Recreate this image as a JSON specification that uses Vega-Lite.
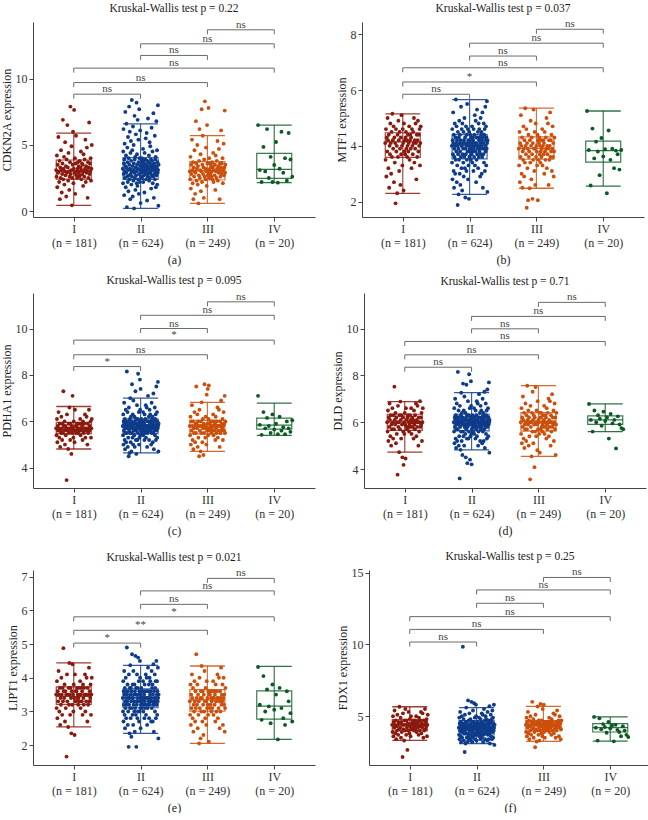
{
"$schema":"https://vega.github.io/schema/vega-lite/v6.json",
"padding":{"left":0,"top":2,"right":0,"bottom":0},
"background":"white",
"config":{"font":"Liberation Serif","view":{"stroke":null},
"axis":{"grid":false,"domainColor":"#444","tickColor":"#444","labelColor":"#333","labelFontSize":12,"titleFontSize":12,"titleFontWeight":"normal","titleColor":"#222","tickSize":4,"labelFont":"Liberation Serif","titleFont":"Liberation Serif"},
"title":{"fontSize":11.5,"fontWeight":"normal","font":"Liberation Serif","color":"#222","offset":4}},
"datasets":{
"box":[
{"p":"a","g":1,"lo":0.43,"q1":2.42,"md":3.03,"q3":3.86,"hi":5.9},
{"p":"a","g":2,"lo":0.2,"q1":2.4,"md":3.18,"q3":4.04,"hi":6.6},
{"p":"a","g":3,"lo":0.58,"q1":2.35,"md":3.05,"q3":3.74,"hi":5.7},
{"p":"a","g":4,"lo":2.15,"q1":2.47,"md":3.15,"q3":4.37,"hi":6.5},
{"p":"b","g":1,"lo":2.3,"q1":3.59,"md":4.14,"q3":4.47,"hi":5.15},
{"p":"b","g":2,"lo":2.26,"q1":3.53,"md":4.03,"q3":4.4,"hi":5.66},
{"p":"b","g":3,"lo":2.48,"q1":3.52,"md":3.91,"q3":4.32,"hi":5.35},
{"p":"b","g":4,"lo":2.56,"q1":3.42,"md":3.83,"q3":4.17,"hi":5.25},
{"p":"c","g":1,"lo":4.81,"q1":5.47,"md":5.67,"q3":5.96,"hi":6.64},
{"p":"c","g":2,"lo":4.64,"q1":5.47,"md":5.79,"q3":6.11,"hi":7.0},
{"p":"c","g":3,"lo":4.71,"q1":5.46,"md":5.79,"q3":6.04,"hi":6.82},
{"p":"c","g":4,"lo":5.4,"q1":5.67,"md":5.84,"q3":6.14,"hi":6.79},
{"p":"d","g":1,"lo":4.72,"q1":5.65,"md":6.0,"q3":6.34,"hi":6.88},
{"p":"d","g":2,"lo":4.82,"q1":5.63,"md":6.0,"q3":6.34,"hi":7.26},
{"p":"d","g":3,"lo":4.54,"q1":5.62,"md":6.03,"q3":6.41,"hi":7.56},
{"p":"d","g":4,"lo":5.6,"q1":5.91,"md":6.1,"q3":6.27,"hi":6.78},
{"p":"e","g":1,"lo":2.54,"q1":3.21,"md":3.45,"q3":3.73,"hi":4.44},
{"p":"e","g":2,"lo":2.35,"q1":3.11,"md":3.41,"q3":3.67,"hi":4.37},
{"p":"e","g":3,"lo":2.05,"q1":3.01,"md":3.34,"q3":3.65,"hi":4.35},
{"p":"e","g":4,"lo":2.17,"q1":2.77,"md":3.16,"q3":3.61,"hi":4.34},
{"p":"f","g":1,"lo":3.31,"q1":3.97,"md":4.39,"q3":4.77,"hi":5.66},
{"p":"f","g":2,"lo":3.1,"q1":3.69,"md":4.23,"q3":4.7,"hi":5.6},
{"p":"f","g":3,"lo":3.24,"q1":3.97,"md":4.39,"q3":4.7,"hi":5.68},
{"p":"f","g":4,"lo":3.26,"q1":3.9,"md":4.2,"q3":4.48,"hi":4.95}
],
"brk":[
{"p":"a","x1":1,"x2":2,"y":8.84,"lab":"ns"},{"p":"a","x1":1,"x2":3,"y":9.72,"lab":"ns"},{"p":"a","x1":1,"x2":4,"y":10.81,"lab":"ns"},{"p":"a","x1":2,"x2":3,"y":11.77,"lab":"ns"},{"p":"a","x1":2,"x2":4,"y":12.65,"lab":"ns"},{"p":"a","x1":3,"x2":4,"y":13.71,"lab":"ns"},
{"p":"b","x1":1,"x2":2,"y":5.85,"lab":"ns"},{"p":"b","x1":1,"x2":3,"y":6.29,"lab":"*"},{"p":"b","x1":1,"x2":4,"y":6.8,"lab":"ns"},{"p":"b","x1":2,"x2":3,"y":7.22,"lab":"ns"},{"p":"b","x1":2,"x2":4,"y":7.68,"lab":"ns"},{"p":"b","x1":3,"x2":4,"y":8.18,"lab":"ns"},
{"p":"c","x1":1,"x2":2,"y":8.36,"lab":"*"},{"p":"c","x1":1,"x2":3,"y":8.87,"lab":"ns"},{"p":"c","x1":1,"x2":4,"y":9.5,"lab":"*"},{"p":"c","x1":2,"x2":3,"y":10.0,"lab":"ns"},{"p":"c","x1":2,"x2":4,"y":10.57,"lab":"ns"},{"p":"c","x1":3,"x2":4,"y":11.15,"lab":"ns"},
{"p":"d","x1":1,"x2":2,"y":8.35,"lab":"ns"},{"p":"d","x1":1,"x2":3,"y":8.88,"lab":"ns"},{"p":"d","x1":1,"x2":4,"y":9.45,"lab":"ns"},{"p":"d","x1":2,"x2":3,"y":9.99,"lab":"ns"},{"p":"d","x1":2,"x2":4,"y":10.52,"lab":"ns"},{"p":"d","x1":3,"x2":4,"y":11.12,"lab":"ns"},
{"p":"e","x1":1,"x2":2,"y":5.03,"lab":"*"},{"p":"e","x1":1,"x2":3,"y":5.41,"lab":"**"},{"p":"e","x1":1,"x2":4,"y":5.81,"lab":"*"},{"p":"e","x1":2,"x2":3,"y":6.18,"lab":"ns"},{"p":"e","x1":2,"x2":4,"y":6.58,"lab":"ns"},{"p":"e","x1":3,"x2":4,"y":6.95,"lab":"ns"},
{"p":"f","x1":1,"x2":2,"y":10.17,"lab":"ns"},{"p":"f","x1":1,"x2":3,"y":11.05,"lab":"ns"},{"p":"f","x1":1,"x2":4,"y":11.94,"lab":"ns"},{"p":"f","x1":2,"x2":3,"y":12.87,"lab":"ns"},{"p":"f","x1":2,"x2":4,"y":13.8,"lab":"ns"},{"p":"f","x1":3,"x2":4,"y":14.67,"lab":"ns"}
],
"pts":[
{"p":"a","g":1,"v":[3.1,2.6,4.2,1.8,3.5,2.9,5.6,3.0,2.2,3.8,0.9,3.3,2.5,4.6,3.1,1.4,2.8,3.6,6.9,2.4,3.2,4.1,2.0,3.0,5.2,2.7,3.4,1.1,3.9,2.9,6.5,3.3,2.3,4.4,3.0,1.6,2.6,3.7,7.9,2.8,3.1,4.9,0.43,2.5,3.5,6.0,2.1,3.2,7.65,2.9,4.0,1.3,3.6,5.7,2.7,3.0]},
{"p":"a","g":1,"v":[2.5,3.2,3.7,2.9,3.4,2.6,3.0,3.8,2.7,3.3,4.5,2.4,3.1,3.6,2.8,3.5,1.9,4.3,3.0,2.6,3.9,3.2,5.4,2.2,3.4,2.9,4.8,3.1,1.0,3.7,2.5,3.3,6.7,2.8,3.6,3.0,4.0,2.3,3.2,5.0]},
{"p":"a","g":2,"v":[3.2,2.1,4.5,6.2,2.8,3.6,1.2,3.9,5.1,2.5,3.0,7.5,3.4,1.8,4.2,2.9,6.6,3.3,0.3,2.6,4.8,3.7,2.2,5.6,3.1,1.5,4.0,2.7,7.9,3.5,2.4,6.0,3.2,0.9,4.4,2.8,5.3,3.8,2.0,3.0,8.4,2.6,4.6,3.4,1.1,6.4,3.1,2.3,5.0,3.6,0.2,2.9,7.2,3.9,2.5,4.1,1.6,3.3,5.8,2.7,3.0,8.2,2.1,4.3,3.5,1.9,6.9,3.2,2.4,5.4,3.7,1.3,2.8,7.7,4.0,3.1,2.2,6.1,3.4,0.6]},
{"p":"a","g":2,"v":[2.6,3.5,3.9,2.9,3.2,4.0,2.5,3.7,3.0,3.4,4.7,2.2,3.1,3.8,2.7,3.6,1.4,4.4,3.3,2.8,3.9,3.0,5.5,2.4,3.5,2.9,5.9,3.2,0.8,3.8,2.6,3.4,7.0,2.8,3.7,3.1,4.2,2.3,3.3,5.2,2.5,3.6,4.9,2.9,3.0,3.9,1.7,3.4,6.3,2.7,3.8,3.2,4.5,2.1,3.5,2.6,7.4,3.1,1.0,3.6,2.8,3.3,5.7,2.4,3.9,3.0,4.1,1.8,3.4,6.8,2.7,3.2,4.6,2.0,3.7,2.9,8.0,3.1,0.4,3.5]},
{"p":"a","g":3,"v":[3.0,2.4,4.1,1.7,3.5,2.8,5.4,3.1,2.1,3.7,0.9,3.3,2.6,4.6,3.0,1.3,2.9,6.8,3.6,2.3,3.2,5.0,2.0,3.4,0.58,2.7,3.8,6.2,2.5,3.1,4.3,1.5,3.0,7.7,2.2,3.5,5.7,2.8,3.3,1.0,3.9,2.6,8.3,3.2,2.4,4.8,3.0,1.9,6.5,3.6,2.7,3.1,7.8,2.9,4.0]},
{"p":"a","g":3,"v":[2.5,3.2,3.6,2.8,3.4,2.6,3.0,3.7,2.4,3.3,4.4,2.2,3.1,3.5,2.7,3.5,1.6,4.2,3.0,2.5,3.8,3.2,5.3,2.3,3.4,2.9,4.7,3.1,0.9,3.6,2.6,3.3,6.1,2.8,3.6,3.0,4.0,2.1,3.2,5.1,2.7,3.3,7.6,2.9,3.5]},
{"p":"a","g":4,"v":[6.5,3.1,2.2,4.85,3.0,6.2,2.5,4.1,2.2,3.48,5.22,2.15,3.2,6.0,2.9,4.0,2.3,5.9,3.9,2.6]},
{"p":"b","g":1,"v":[4.1,3.5,4.6,2.9,4.3,3.8,5.0,4.2,3.2,4.4,2.5,4.0,3.7,4.8,4.1,3.0,4.5,3.6,5.15,4.2,3.9,4.7,2.7,4.3,3.4,4.1,1.94,4.6,3.8,4.0,2.3,4.4,3.6,4.9,4.2,3.1,4.5,3.9,2.6,4.3,3.7,5.1,4.0,3.3,4.6,4.1,2.4,4.8,3.8,4.2]},
{"p":"b","g":1,"v":[3.7,4.3,4.5,3.9,4.2,3.6,4.0,4.4,3.8,4.1,4.7,3.5,4.2,4.4,3.9,4.3,3.2,4.6,4.0,3.7,4.5,4.1,5.0,3.4,4.2,3.9,4.8,4.1,2.8,4.4,3.6,4.2,4.9,3.8,4.4,4.0,4.6,3.3,4.1,4.7]},
{"p":"b","g":2,"v":[4.0,3.4,4.6,2.8,4.2,3.7,5.2,4.1,3.1,4.4,2.5,3.9,3.6,4.8,4.0,3.0,4.3,3.5,5.66,4.1,3.8,4.7,2.7,4.2,3.3,4.0,1.88,4.5,3.7,3.9,2.26,4.3,3.5,4.9,4.1,3.0,4.4,3.8,2.6,4.2,3.6,5.4,4.0,3.2,4.6,4.0,2.4,4.8,3.7,4.1,3.9,3.4,4.5,2.9,4.2,3.6,5.0,4.1,3.2,4.3,2.15,3.9,3.7,4.7,4.0,3.1,4.4,3.5,5.5,4.1,3.8,4.6,2.8,4.2,3.3,4.0,2.1,4.5,3.6,3.9]},
{"p":"b","g":2,"v":[3.6,4.2,4.4,3.8,4.1,3.5,3.9,4.3,3.7,4.0,4.7,3.4,4.1,4.3,3.8,4.2,3.1,4.6,3.9,3.6,4.4,4.0,5.1,3.3,4.1,3.8,4.9,4.0,2.7,4.3,3.5,4.1,5.3,3.7,4.3,3.9,4.5,3.2,4.0,4.8,3.6,4.2,4.6,3.8,3.9,4.3,2.9,4.1,5.0,3.7,4.4,4.0,4.5,3.0,4.2,3.6,5.2,3.9,2.5,4.3,3.7,4.1,4.8,3.4,4.4,3.9,4.6,3.1,4.0,5.4,3.8,4.2,4.7,3.3,4.3,3.9,5.6,4.1,2.35,4.2]},
{"p":"b","g":3,"v":[3.9,3.3,4.5,2.7,4.1,3.6,5.1,4.0,3.0,4.3,2.5,3.8,3.5,4.7,3.9,2.9,4.2,3.4,5.35,4.0,3.7,4.6,1.78,4.1,3.2,3.9,2.05,4.4,3.6,3.8,2.48,4.2,3.4,4.9,4.0,2.8,4.3,3.7,2.1,4.1,3.5,5.3,3.9,3.1,4.5,3.9,2.6,4.8,3.6,4.0,3.8,3.3,4.4,2.05,4.2]},
{"p":"b","g":3,"v":[3.5,4.1,4.3,3.7,4.0,3.4,3.8,4.2,3.6,3.9,4.6,3.3,4.0,4.2,3.7,4.1,3.0,4.5,3.8,3.5,4.3,3.9,5.0,3.2,4.0,3.7,4.8,3.9,2.6,4.2,3.5,4.0,5.2,3.6,4.2,3.8,4.4,3.1,3.9,4.7,3.6,4.1,2.9,3.8,4.3]},
{"p":"b","g":4,"v":[5.25,3.85,2.58,4.62,3.55,4.15,3.8,2.95,4.28,3.62,3.88,2.3,4.55,3.5,3.9,3.2,3.83,3.7,3.15,3.85]},
{"p":"c","g":1,"v":[5.7,5.4,6.1,5.1,5.8,5.6,6.4,5.7,5.3,5.9,4.9,5.6,5.5,6.2,5.7,5.2,5.9,5.5,7.3,5.8,5.6,6.0,5.0,5.8,5.4,5.7,3.47,6.3,5.6,5.7,4.81,5.9,5.5,6.6,5.7,5.2,5.9,5.6,4.6,5.8,5.5,7.1,5.7,5.3,6.0,5.6,5.1,6.5,5.6,5.8]},
{"p":"c","g":1,"v":[5.5,5.8,5.9,5.6,5.7,5.5,5.6,5.9,5.6,5.7,6.1,5.4,5.7,5.9,5.6,5.8,5.2,6.0,5.6,5.5,5.9,5.7,6.3,5.3,5.7,5.6,6.2,5.7,5.0,5.9,5.5,5.7,6.5,5.6,5.8,5.7,6.0,5.3,5.7,6.1]},
{"p":"c","g":2,"v":[5.8,5.4,6.3,5.0,6.0,5.6,6.8,5.9,5.2,6.1,4.8,5.7,5.5,6.5,5.8,5.1,6.0,5.5,8.15,5.9,5.7,6.4,4.9,6.0,5.3,5.8,4.5,6.6,5.6,5.8,4.64,6.1,5.5,7.0,5.9,5.1,6.2,5.7,4.7,6.0,5.5,7.6,5.8,5.3,6.3,5.8,5.0,6.9,5.6,5.9,5.7,5.4,6.2,4.9,6.0,5.6,7.3,5.9,5.2,6.1,4.6,5.7,5.6,6.7,5.8,5.2,6.1,5.5,8.05,5.9,5.7,6.4,5.0,6.0,5.3,5.8,7.8,6.5,5.4,7.4]},
{"p":"c","g":2,"v":[5.6,5.9,6.1,5.7,5.8,5.5,5.7,6.0,5.6,5.8,6.4,5.4,5.8,6.0,5.6,5.9,5.2,6.3,5.7,5.5,6.1,5.8,6.7,5.3,5.8,5.6,6.6,5.8,4.9,6.0,5.5,5.8,7.1,5.6,6.0,5.7,6.2,5.2,5.8,6.5,5.6,5.9,6.3,5.6,5.7,6.0,5.0,5.8,6.8,5.5,6.1,5.7,6.2,5.1,5.9,5.5,7.2,5.7,4.8,6.0,5.6,5.8,6.6,5.4,6.1,5.7,6.3,5.2,5.8,7.5,5.6,5.9,6.4,5.3,6.0,5.7,7.7,5.8,4.7,5.9]},
{"p":"c","g":3,"v":[5.8,5.4,6.2,5.0,6.0,5.6,6.7,5.8,5.2,6.0,4.8,5.7,5.5,6.4,5.8,5.1,5.9,5.5,7.5,5.9,5.7,6.3,4.9,6.0,5.3,5.8,4.5,6.5,5.6,5.8,4.71,6.0,5.5,6.82,5.8,5.1,6.1,5.7,4.55,5.9,5.5,7.6,5.8,5.3,6.2,5.7,5.0,7.15,5.6,5.9,7.4,5.4,6.1,7.55,5.7]},
{"p":"c","g":3,"v":[5.6,5.9,6.0,5.7,5.8,5.5,5.7,6.0,5.6,5.8,6.3,5.4,5.8,6.0,5.6,5.9,5.2,6.2,5.7,5.5,6.0,5.8,6.6,5.3,5.8,5.6,6.5,5.8,4.9,6.0,5.5,5.8,6.9,5.6,5.9,5.7,6.1,5.2,5.8,6.4,5.6,5.9,7.1,5.5,6.0]},
{"p":"c","g":4,"v":[7.1,5.85,5.42,6.4,5.7,6.15,5.8,5.5,6.3,5.65,5.9,5.45,6.2,5.6,5.75,5.45,6.0,5.7,5.55,6.05]},
{"p":"d","g":1,"v":[6.0,5.6,6.5,5.2,6.2,5.8,6.8,6.1,5.4,6.3,5.0,5.9,5.7,6.6,6.0,5.3,6.3,5.7,7.52,6.1,5.9,6.4,5.1,6.2,5.5,6.0,3.76,6.7,5.8,6.0,4.72,6.3,5.7,6.88,6.1,5.3,6.3,5.9,4.5,6.2,5.6,4.18,6.0,5.5,6.4,5.9,4.45,6.6,5.8,6.1]},
{"p":"d","g":1,"v":[5.7,6.2,6.3,5.8,6.0,5.6,5.9,6.3,5.8,6.1,6.6,5.5,6.0,6.2,5.8,6.1,5.3,6.5,5.9,5.7,6.3,6.0,6.8,5.4,6.1,5.8,6.7,6.0,5.0,6.2,5.6,6.0,6.9,5.8,6.2,5.9,6.4,5.2,6.0,6.6]},
{"p":"d","g":2,"v":[6.0,5.6,6.6,5.1,6.2,5.8,7.0,6.1,5.3,6.3,4.9,5.9,5.7,6.8,6.0,5.2,6.2,5.7,8.15,6.1,5.9,6.5,5.0,6.2,5.4,6.0,3.6,6.7,5.8,6.0,4.82,6.3,5.6,7.26,6.1,5.2,6.4,5.9,4.6,6.2,5.6,7.65,6.0,5.4,6.5,5.9,5.0,7.1,5.8,6.1,5.9,5.5,6.4,4.5,6.2,5.7,7.6,6.1,5.3,6.3,4.25,5.9,5.8,6.9,6.0,5.3,6.3,5.6,8.05,6.1,5.9,6.6,4.4,6.2,5.4,6.0,7.75,6.7,5.5,4.2]},
{"p":"d","g":2,"v":[5.7,6.1,6.3,5.8,6.0,5.6,5.9,6.2,5.8,6.0,6.6,5.5,6.0,6.2,5.8,6.1,5.3,6.5,5.9,5.7,6.3,6.0,6.9,5.4,6.1,5.8,6.8,6.0,5.0,6.2,5.6,6.0,7.2,5.8,6.2,5.9,6.4,5.2,6.0,6.7,5.7,6.1,6.5,5.8,5.9,6.2,5.1,6.0,7.0,5.6,6.3,5.9,6.4,5.2,6.1,5.7,7.3,5.9,4.9,6.2,5.8,6.0,6.8,5.5,6.3,5.9,6.5,5.3,6.0,7.4,5.8,6.1,6.6,5.4,6.2,5.9,7.7,6.0,4.7,6.1]},
{"p":"d","g":3,"v":[6.0,5.5,6.6,5.1,6.2,5.8,7.1,6.1,5.3,6.4,4.9,5.9,5.7,6.8,6.0,5.2,6.3,5.7,7.56,6.1,5.9,6.5,5.0,6.2,5.4,6.0,3.56,6.7,5.8,6.0,4.54,6.4,5.6,7.3,6.1,5.1,6.3,5.9,4.08,6.2,5.6,7.5,6.0,5.4,6.5,5.9,4.8,6.9,5.7,6.1,6.0,5.5,6.4,4.7,6.2]},
{"p":"d","g":3,"v":[5.7,6.2,6.4,5.8,6.0,5.6,5.9,6.3,5.8,6.1,6.7,5.5,6.0,6.3,5.8,6.2,5.3,6.6,5.9,5.7,6.4,6.0,7.0,5.4,6.1,5.8,6.9,6.0,5.0,6.3,5.6,6.0,7.2,5.8,6.2,5.9,6.5,5.2,6.0,6.8,5.7,6.2,4.6,5.9,6.4]},
{"p":"d","g":4,"v":[6.78,6.1,5.6,6.5,6.0,6.3,6.15,5.85,6.45,6.05,6.2,5.3,6.35,5.95,6.1,4.88,6.25,5.9,5.75,5.7]},
{"p":"e","g":1,"v":[3.5,3.1,3.9,2.8,3.6,3.3,4.2,3.5,3.0,3.7,2.6,3.4,3.2,4.0,3.5,2.9,3.7,3.3,4.88,3.6,3.4,3.8,2.7,3.6,3.1,3.5,1.66,4.1,3.3,3.5,2.54,3.7,3.2,4.44,3.5,2.9,3.7,3.4,2.35,3.6,3.2,4.4,3.5,3.0,3.8,3.4,2.3,4.1,3.3,3.6]},
{"p":"e","g":1,"v":[3.3,3.6,3.7,3.4,3.5,3.2,3.4,3.7,3.3,3.5,3.9,3.1,3.5,3.7,3.3,3.6,2.9,3.8,3.4,3.2,3.7,3.5,4.1,3.0,3.5,3.3,4.0,3.5,2.7,3.7,3.2,3.5,4.3,3.3,3.6,3.4,3.8,2.9,3.5,4.0]},
{"p":"e","g":2,"v":[3.4,3.0,3.9,2.7,3.6,3.2,4.2,3.5,2.9,3.7,2.5,3.3,3.1,4.0,3.4,2.8,3.6,3.2,4.9,3.5,3.3,3.8,2.6,3.6,3.0,3.4,1.95,4.1,3.2,3.4,2.35,3.7,3.1,4.37,3.5,2.8,3.7,3.3,2.25,3.6,3.1,4.7,3.4,2.9,3.8,3.4,2.6,4.2,3.2,3.5,3.3,3.0,3.8,2.4,3.6,3.1,4.65,3.5,2.9,3.7,1.95,3.3,3.2,4.1,3.4,2.8,3.7,3.0,4.6,3.5,3.3,3.9,2.7,3.6,3.0,3.4,4.5,4.0,3.1,2.5]},
{"p":"e","g":2,"v":[3.2,3.5,3.7,3.3,3.4,3.1,3.3,3.6,3.2,3.4,3.9,3.0,3.4,3.6,3.2,3.5,2.8,3.8,3.3,3.1,3.6,3.4,4.1,2.9,3.4,3.2,4.0,3.4,2.6,3.6,3.1,3.4,4.3,3.2,3.6,3.3,3.8,2.8,3.4,4.0,3.2,3.5,3.9,3.3,3.3,3.6,2.7,3.4,4.2,3.1,3.7,3.3,3.8,2.7,3.5,3.2,4.4,3.3,2.4,3.6,3.2,3.4,4.1,3.0,3.7,3.3,3.9,2.8,3.4,4.5,3.2,3.5,3.9,2.9,3.6,3.3,4.3,3.4,2.2,3.5]},
{"p":"e","g":3,"v":[3.3,2.9,3.8,2.6,3.5,3.1,4.1,3.4,2.8,3.7,2.4,3.2,3.0,3.9,3.3,2.7,3.6,3.1,4.7,3.4,3.2,3.8,2.5,3.5,2.9,3.3,2.05,4.0,3.1,3.4,2.2,3.6,3.0,4.35,3.4,2.7,3.6,3.2,2.3,3.5,3.0,4.2,3.3,2.8,3.7,3.3,2.6,3.9,3.1,3.4,3.2,2.9,3.6,2.1,3.5]},
{"p":"e","g":3,"v":[3.1,3.5,3.6,3.2,3.4,3.0,3.3,3.6,3.1,3.4,3.9,2.9,3.4,3.6,3.2,3.5,2.7,3.8,3.3,3.0,3.6,3.4,4.1,2.8,3.4,3.1,4.0,3.3,2.5,3.6,3.0,3.4,4.3,3.2,3.5,3.3,3.8,2.6,3.4,4.0,3.2,3.5,2.4,3.1,3.7]},
{"p":"e","g":4,"v":[4.32,3.2,2.75,4.05,3.0,3.65,3.15,2.65,3.8,3.05,3.5,2.17,3.7,3.1,2.8,2.6,3.6,3.3,2.95,2.7]},
{"p":"f","g":1,"v":[4.4,3.9,5.0,3.6,4.6,4.2,5.4,4.4,3.8,4.7,3.4,4.3,4.0,5.1,4.4,3.7,4.6,4.1,5.66,4.5,4.2,4.9,3.5,4.6,3.9,4.4,2.16,5.2,4.1,4.4,3.31,4.7,4.0,5.5,4.4,3.7,4.7,4.2,2.65,4.5,4.0,5.3,4.4,3.8,4.8,4.3,3.6,5.0,4.1,4.5]},
{"p":"f","g":1,"v":[4.1,4.6,4.7,4.2,4.4,4.0,4.3,4.7,4.1,4.5,5.0,3.9,4.4,4.6,4.2,4.6,3.7,4.9,4.3,4.0,4.7,4.4,5.3,3.8,4.5,4.2,5.2,4.4,3.5,4.7,4.0,4.4,5.5,4.1,4.6,4.3,4.8,3.6,4.4,5.1]},
{"p":"f","g":2,"v":[4.2,3.7,4.9,3.4,4.5,4.0,5.3,4.3,3.6,4.6,3.2,4.1,3.9,5.0,4.2,3.5,4.5,3.9,9.84,4.4,4.1,4.8,3.3,4.5,3.8,4.2,2.51,5.1,4.0,4.3,3.1,4.6,3.8,5.6,4.3,3.5,4.6,4.1,3.2,4.4,3.8,6.1,4.2,3.6,4.7,4.2,3.4,5.2,4.0,4.4,4.1,3.7,4.8,3.3,4.5,3.9,6.0,4.3,3.5,4.6,3.2,4.1,4.0,5.4,4.2,3.6,4.6,3.8,5.9,4.4,4.1,4.9,3.4,4.5,3.7,4.2,5.8,5.0,3.9,3.3]},
{"p":"f","g":2,"v":[3.8,4.4,4.6,3.9,4.2,3.7,4.0,4.5,3.8,4.3,4.9,3.6,4.2,4.5,3.9,4.4,3.4,4.8,4.1,3.7,4.6,4.2,5.2,3.5,4.3,3.9,5.1,4.2,3.2,4.5,3.7,4.2,5.5,3.9,4.4,4.1,4.7,3.4,4.2,5.0,3.8,4.3,4.8,3.9,4.0,4.5,3.3,4.2,5.3,3.7,4.6,4.1,4.7,3.4,4.4,3.8,5.7,4.0,3.1,4.5,3.9,4.2,5.1,3.6,4.6,4.1,4.8,3.4,4.2,5.4,3.9,4.3,4.9,3.5,4.5,4.0,5.8,4.2,3.0,4.4]},
{"p":"f","g":3,"v":[4.4,3.9,4.9,3.6,4.6,4.2,5.3,4.4,3.8,4.7,3.4,4.3,4.0,5.0,4.4,3.7,4.6,4.1,6.0,4.5,4.2,4.8,3.5,4.6,3.9,4.4,2.84,5.1,4.1,4.4,3.24,4.6,4.0,5.68,4.4,3.7,4.7,4.2,3.3,4.5,4.0,5.85,4.4,3.8,4.7,4.3,3.6,5.5,4.1,4.5,5.8,3.9,4.6,3.5,4.3]},
{"p":"f","g":3,"v":[4.1,4.5,4.6,4.2,4.4,4.0,4.3,4.6,4.1,4.5,4.9,3.9,4.4,4.6,4.2,4.5,3.7,4.8,4.3,4.0,4.6,4.4,5.2,3.8,4.4,4.1,5.1,4.3,3.5,4.6,4.0,4.4,5.4,4.2,4.5,4.3,4.7,3.6,4.4,5.0,4.2,4.5,3.4,4.1,4.7]},
{"p":"f","g":4,"v":[4.95,4.2,3.3,4.85,4.1,4.45,4.25,3.85,4.6,4.15,4.35,3.25,4.4,4.05,3.9,3.6,4.3,4.0,3.7,3.55]}
]
},
"spacing":10,
"vconcat":[
{"spacing":20,"hconcat":[
{"width":282,"height":195,"title":"Kruskal-Wallis test p = 0.22","resolve":{"scale":{"x":"independent"},"axis":{"x":"independent"}},
"encoding":{"y":{"field":"val","type":"quantitative","scale":{"domain":[-0.45,14.3],"nice":false,"zero":false},"axis":{"values":[0,5,10],"title":"CDKN2A expression","titlePadding":2,"labelPadding":2}}},
"layer":[
{"layer":[
{"data":{"name":"box"},"transform":[{"filter":"datum.p=='a'"},{"fold":["lo"],"as":["kk","val"]}],"mark":{"type":"rule","strokeWidth":1.2,"opacity":0.8},"encoding":{"x":{"field":"g","type":"nominal","scale":{"type":"point","domain":[1,2,3,4],"padding":0.61},"axis":{"title":"(a)","labelAngle":0,"labelExpr":"datum.value == 1 ? ['I', '(n = 181)'] : datum.value == 2 ? ['II', '(n = 624)'] : datum.value == 3 ? ['III', '(n = 249)'] : ['IV', '(n = 20)']","labelOverlap":false,"labelLineHeight":14,"labelPadding":2,"titlePadding":6}},"y2":{"field":"hi"},"color":{"field":"g","type":"nominal","scale":{"domain":[1,2,3,4],"range":["#8B1A0E","#0E3C8A","#CC4F0C","#0B5A24"]},"legend":null}}},
{"data":{"name":"box"},"transform":[{"filter":"datum.p=='a'"},{"fold":["q1"],"as":["kk","val"]}],"mark":{"type":"bar","orient":"vertical","size":35,"filled":false,"strokeWidth":1.2,"opacity":0.8},"encoding":{"x":{"field":"g","type":"nominal"},"y2":{"field":"q3"},"color":{"field":"g","type":"nominal","legend":null}}},
{"data":{"name":"box"},"transform":[{"filter":"datum.p=='a'"},{"fold":["lo","hi","md"],"as":["kk","val"]}],"mark":{"type":"tick","orient":"horizontal","size":35,"thickness":1.3,"opacity":0.85},"encoding":{"x":{"field":"g","type":"nominal"},"color":{"field":"g","type":"nominal","legend":null}}},
{"data":{"name":"pts"},"transform":[{"filter":"datum.p=='a'"},{"flatten":["v"],"as":["val"]},{"window":[{"op":"row_number","as":"k"}],"groupby":["g"]},{"window":[{"op":"cume_dist","as":"j"}],"sort":[{"field":"k"}],"groupby":["g"]}],"mark":{"type":"circle","size":15,"opacity":1},"encoding":{"x":{"field":"g","type":"nominal"},"xOffset":{"field":"j","type":"quantitative","scale":{"domain":[0,1],"range":[-18,18]}},"color":{"field":"g","type":"nominal","legend":null}}}
]},
{"layer":[
{"data":{"name":"brk"},"transform":[{"filter":"datum.p=='a'"},{"fold":["y"],"as":["kk","val"]}],"mark":{"type":"rule","color":"#6a6a6a","strokeWidth":1},"encoding":{"x":{"field":"x1","type":"quantitative","scale":{"domain":[0.39,4.61],"nice":false,"zero":false},"axis":null},"x2":{"field":"x2"}}},
{"data":{"name":"brk"},"transform":[{"filter":"datum.p=='a'"},{"fold":["x1","x2"],"as":["kk","xv"]},{"fold":["y"],"as":["k2","val"]}],"mark":{"type":"point","shape":"M0,0L0,1","size":81,"color":"#6a6a6a","strokeWidth":1,"opacity":1},"encoding":{"x":{"field":"xv","type":"quantitative","axis":null}}},
{"data":{"name":"brk"},"transform":[{"filter":"datum.p=='a'"},{"fold":["x1","x2"],"as":["kk","xv"]},{"aggregate":[{"op":"mean","field":"xv","as":"xm"}],"groupby":["y","lab"]},{"fold":["y"],"as":["k2","val"]}],"mark":{"type":"text","baseline":"bottom","dy":0,"fontSize":11,"color":"#444"},"encoding":{"x":{"field":"xm","type":"quantitative","axis":null},"text":{"field":"lab"}}}
]}
]},
{"width":282,"height":195,"title":"Kruskal-Wallis test p = 0.037","resolve":{"scale":{"x":"independent"},"axis":{"x":"independent"}},
"encoding":{"y":{"field":"val","type":"quantitative","scale":{"domain":[1.45,8.44],"nice":false,"zero":false},"axis":{"values":[2,4,6,8],"title":"MTF1 expression","titlePadding":2,"labelPadding":2}}},
"layer":[
{"layer":[
{"data":{"name":"box"},"transform":[{"filter":"datum.p=='b'"},{"fold":["lo"],"as":["kk","val"]}],"mark":{"type":"rule","strokeWidth":1.2,"opacity":0.8},"encoding":{"x":{"field":"g","type":"nominal","scale":{"type":"point","domain":[1,2,3,4],"padding":0.61},"axis":{"title":"(b)","labelAngle":0,"labelExpr":"datum.value == 1 ? ['I', '(n = 181)'] : datum.value == 2 ? ['II', '(n = 624)'] : datum.value == 3 ? ['III', '(n = 249)'] : ['IV', '(n = 20)']","labelOverlap":false,"labelLineHeight":14,"labelPadding":2,"titlePadding":6}},"y2":{"field":"hi"},"color":{"field":"g","type":"nominal","scale":{"domain":[1,2,3,4],"range":["#8B1A0E","#0E3C8A","#CC4F0C","#0B5A24"]},"legend":null}}},
{"data":{"name":"box"},"transform":[{"filter":"datum.p=='b'"},{"fold":["q1"],"as":["kk","val"]}],"mark":{"type":"bar","orient":"vertical","size":35,"filled":false,"strokeWidth":1.2,"opacity":0.8},"encoding":{"x":{"field":"g","type":"nominal"},"y2":{"field":"q3"},"color":{"field":"g","type":"nominal","legend":null}}},
{"data":{"name":"box"},"transform":[{"filter":"datum.p=='b'"},{"fold":["lo","hi","md"],"as":["kk","val"]}],"mark":{"type":"tick","orient":"horizontal","size":35,"thickness":1.3,"opacity":0.85},"encoding":{"x":{"field":"g","type":"nominal"},"color":{"field":"g","type":"nominal","legend":null}}},
{"data":{"name":"pts"},"transform":[{"filter":"datum.p=='b'"},{"flatten":["v"],"as":["val"]},{"window":[{"op":"row_number","as":"k"}],"groupby":["g"]},{"window":[{"op":"cume_dist","as":"j"}],"sort":[{"field":"k"}],"groupby":["g"]}],"mark":{"type":"circle","size":15,"opacity":1},"encoding":{"x":{"field":"g","type":"nominal"},"xOffset":{"field":"j","type":"quantitative","scale":{"domain":[0,1],"range":[-18,18]}},"color":{"field":"g","type":"nominal","legend":null}}}
]},
{"layer":[
{"data":{"name":"brk"},"transform":[{"filter":"datum.p=='b'"},{"fold":["y"],"as":["kk","val"]}],"mark":{"type":"rule","color":"#6a6a6a","strokeWidth":1},"encoding":{"x":{"field":"x1","type":"quantitative","scale":{"domain":[0.39,4.61],"nice":false,"zero":false},"axis":null},"x2":{"field":"x2"}}},
{"data":{"name":"brk"},"transform":[{"filter":"datum.p=='b'"},{"fold":["x1","x2"],"as":["kk","xv"]},{"fold":["y"],"as":["k2","val"]}],"mark":{"type":"point","shape":"M0,0L0,1","size":81,"color":"#6a6a6a","strokeWidth":1,"opacity":1},"encoding":{"x":{"field":"xv","type":"quantitative","axis":null}}},
{"data":{"name":"brk"},"transform":[{"filter":"datum.p=='b'"},{"fold":["x1","x2"],"as":["kk","xv"]},{"aggregate":[{"op":"mean","field":"xv","as":"xm"}],"groupby":["y","lab"]},{"fold":["y"],"as":["k2","val"]}],"mark":{"type":"text","baseline":"bottom","dy":0,"fontSize":11,"color":"#444"},"encoding":{"x":{"field":"xm","type":"quantitative","axis":null},"text":{"field":"lab"}}}
]}
]}
]},
{"spacing":14,"vconcat":[
{"spacing":16,"hconcat":[
{"width":282,"height":195,"title":"Kruskal-Wallis test p = 0.095","resolve":{"scale":{"x":"independent"},"axis":{"x":"independent"}},
"encoding":{"y":{"field":"val","type":"quantitative","scale":{"domain":[3.13,11.53],"nice":false,"zero":false},"axis":{"values":[4,6,8,10],"title":"PDHA1 expression","titlePadding":2,"labelPadding":2}}},
"layer":[
{"layer":[
{"data":{"name":"box"},"transform":[{"filter":"datum.p=='c'"},{"fold":["lo"],"as":["kk","val"]}],"mark":{"type":"rule","strokeWidth":1.2,"opacity":0.8},"encoding":{"x":{"field":"g","type":"nominal","scale":{"type":"point","domain":[1,2,3,4],"padding":0.61},"axis":{"title":"(c)","labelAngle":0,"labelExpr":"datum.value == 1 ? ['I', '(n = 181)'] : datum.value == 2 ? ['II', '(n = 624)'] : datum.value == 3 ? ['III', '(n = 249)'] : ['IV', '(n = 20)']","labelOverlap":false,"labelLineHeight":14,"labelPadding":2,"titlePadding":6}},"y2":{"field":"hi"},"color":{"field":"g","type":"nominal","scale":{"domain":[1,2,3,4],"range":["#8B1A0E","#0E3C8A","#CC4F0C","#0B5A24"]},"legend":null}}},
{"data":{"name":"box"},"transform":[{"filter":"datum.p=='c'"},{"fold":["q1"],"as":["kk","val"]}],"mark":{"type":"bar","orient":"vertical","size":35,"filled":false,"strokeWidth":1.2,"opacity":0.8},"encoding":{"x":{"field":"g","type":"nominal"},"y2":{"field":"q3"},"color":{"field":"g","type":"nominal","legend":null}}},
{"data":{"name":"box"},"transform":[{"filter":"datum.p=='c'"},{"fold":["lo","hi","md"],"as":["kk","val"]}],"mark":{"type":"tick","orient":"horizontal","size":35,"thickness":1.3,"opacity":0.85},"encoding":{"x":{"field":"g","type":"nominal"},"color":{"field":"g","type":"nominal","legend":null}}},
{"data":{"name":"pts"},"transform":[{"filter":"datum.p=='c'"},{"flatten":["v"],"as":["val"]},{"window":[{"op":"row_number","as":"k"}],"groupby":["g"]},{"window":[{"op":"cume_dist","as":"j"}],"sort":[{"field":"k"}],"groupby":["g"]}],"mark":{"type":"circle","size":15,"opacity":1},"encoding":{"x":{"field":"g","type":"nominal"},"xOffset":{"field":"j","type":"quantitative","scale":{"domain":[0,1],"range":[-18,18]}},"color":{"field":"g","type":"nominal","legend":null}}}
]},
{"layer":[
{"data":{"name":"brk"},"transform":[{"filter":"datum.p=='c'"},{"fold":["y"],"as":["kk","val"]}],"mark":{"type":"rule","color":"#6a6a6a","strokeWidth":1},"encoding":{"x":{"field":"x1","type":"quantitative","scale":{"domain":[0.39,4.61],"nice":false,"zero":false},"axis":null},"x2":{"field":"x2"}}},
{"data":{"name":"brk"},"transform":[{"filter":"datum.p=='c'"},{"fold":["x1","x2"],"as":["kk","xv"]},{"fold":["y"],"as":["k2","val"]}],"mark":{"type":"point","shape":"M0,0L0,1","size":81,"color":"#6a6a6a","strokeWidth":1,"opacity":1},"encoding":{"x":{"field":"xv","type":"quantitative","axis":null}}},
{"data":{"name":"brk"},"transform":[{"filter":"datum.p=='c'"},{"fold":["x1","x2"],"as":["kk","xv"]},{"aggregate":[{"op":"mean","field":"xv","as":"xm"}],"groupby":["y","lab"]},{"fold":["y"],"as":["k2","val"]}],"mark":{"type":"text","baseline":"bottom","dy":0,"fontSize":11,"color":"#444"},"encoding":{"x":{"field":"xm","type":"quantitative","axis":null},"text":{"field":"lab"}}}
]}
]},
{"width":282,"height":195,"title":"Kruskal-Wallis test p = 0.71","resolve":{"scale":{"x":"independent"},"axis":{"x":"independent"}},
"encoding":{"y":{"field":"val","type":"quantitative","scale":{"domain":[3.19,11.52],"nice":false,"zero":false},"axis":{"values":[4,6,8,10],"title":"DLD expression","titlePadding":2,"labelPadding":2}}},
"layer":[
{"layer":[
{"data":{"name":"box"},"transform":[{"filter":"datum.p=='d'"},{"fold":["lo"],"as":["kk","val"]}],"mark":{"type":"rule","strokeWidth":1.2,"opacity":0.8},"encoding":{"x":{"field":"g","type":"nominal","scale":{"type":"point","domain":[1,2,3,4],"padding":0.61},"axis":{"title":"(d)","labelAngle":0,"labelExpr":"datum.value == 1 ? ['I', '(n = 181)'] : datum.value == 2 ? ['II', '(n = 624)'] : datum.value == 3 ? ['III', '(n = 249)'] : ['IV', '(n = 20)']","labelOverlap":false,"labelLineHeight":14,"labelPadding":2,"titlePadding":6}},"y2":{"field":"hi"},"color":{"field":"g","type":"nominal","scale":{"domain":[1,2,3,4],"range":["#8B1A0E","#0E3C8A","#CC4F0C","#0B5A24"]},"legend":null}}},
{"data":{"name":"box"},"transform":[{"filter":"datum.p=='d'"},{"fold":["q1"],"as":["kk","val"]}],"mark":{"type":"bar","orient":"vertical","size":35,"filled":false,"strokeWidth":1.2,"opacity":0.8},"encoding":{"x":{"field":"g","type":"nominal"},"y2":{"field":"q3"},"color":{"field":"g","type":"nominal","legend":null}}},
{"data":{"name":"box"},"transform":[{"filter":"datum.p=='d'"},{"fold":["lo","hi","md"],"as":["kk","val"]}],"mark":{"type":"tick","orient":"horizontal","size":35,"thickness":1.3,"opacity":0.85},"encoding":{"x":{"field":"g","type":"nominal"},"color":{"field":"g","type":"nominal","legend":null}}},
{"data":{"name":"pts"},"transform":[{"filter":"datum.p=='d'"},{"flatten":["v"],"as":["val"]},{"window":[{"op":"row_number","as":"k"}],"groupby":["g"]},{"window":[{"op":"cume_dist","as":"j"}],"sort":[{"field":"k"}],"groupby":["g"]}],"mark":{"type":"circle","size":15,"opacity":1},"encoding":{"x":{"field":"g","type":"nominal"},"xOffset":{"field":"j","type":"quantitative","scale":{"domain":[0,1],"range":[-18,18]}},"color":{"field":"g","type":"nominal","legend":null}}}
]},
{"layer":[
{"data":{"name":"brk"},"transform":[{"filter":"datum.p=='d'"},{"fold":["y"],"as":["kk","val"]}],"mark":{"type":"rule","color":"#6a6a6a","strokeWidth":1},"encoding":{"x":{"field":"x1","type":"quantitative","scale":{"domain":[0.39,4.61],"nice":false,"zero":false},"axis":null},"x2":{"field":"x2"}}},
{"data":{"name":"brk"},"transform":[{"filter":"datum.p=='d'"},{"fold":["x1","x2"],"as":["kk","xv"]},{"fold":["y"],"as":["k2","val"]}],"mark":{"type":"point","shape":"M0,0L0,1","size":81,"color":"#6a6a6a","strokeWidth":1,"opacity":1},"encoding":{"x":{"field":"xv","type":"quantitative","axis":null}}},
{"data":{"name":"brk"},"transform":[{"filter":"datum.p=='d'"},{"fold":["x1","x2"],"as":["kk","xv"]},{"aggregate":[{"op":"mean","field":"xv","as":"xm"}],"groupby":["y","lab"]},{"fold":["y"],"as":["k2","val"]}],"mark":{"type":"text","baseline":"bottom","dy":0,"fontSize":11,"color":"#444"},"encoding":{"x":{"field":"xm","type":"quantitative","axis":null},"text":{"field":"lab"}}}
]}
]}
]},
{"spacing":21,"hconcat":[
{"width":282,"height":195,"title":"Kruskal-Wallis test p = 0.021","resolve":{"scale":{"x":"independent"},"axis":{"x":"independent"}},
"encoding":{"y":{"field":"val","type":"quantitative","scale":{"domain":[1.41,7.2],"nice":false,"zero":false},"axis":{"values":[2,3,4,5,6,7],"title":"LIPT1 expression","titlePadding":2,"labelPadding":2}}},
"layer":[
{"layer":[
{"data":{"name":"box"},"transform":[{"filter":"datum.p=='e'"},{"fold":["lo"],"as":["kk","val"]}],"mark":{"type":"rule","strokeWidth":1.2,"opacity":0.8},"encoding":{"x":{"field":"g","type":"nominal","scale":{"type":"point","domain":[1,2,3,4],"padding":0.61},"axis":{"title":"(e)","labelAngle":0,"labelExpr":"datum.value == 1 ? ['I', '(n = 181)'] : datum.value == 2 ? ['II', '(n = 624)'] : datum.value == 3 ? ['III', '(n = 249)'] : ['IV', '(n = 20)']","labelOverlap":false,"labelLineHeight":14,"labelPadding":2,"titlePadding":6}},"y2":{"field":"hi"},"color":{"field":"g","type":"nominal","scale":{"domain":[1,2,3,4],"range":["#8B1A0E","#0E3C8A","#CC4F0C","#0B5A24"]},"legend":null}}},
{"data":{"name":"box"},"transform":[{"filter":"datum.p=='e'"},{"fold":["q1"],"as":["kk","val"]}],"mark":{"type":"bar","orient":"vertical","size":35,"filled":false,"strokeWidth":1.2,"opacity":0.8},"encoding":{"x":{"field":"g","type":"nominal"},"y2":{"field":"q3"},"color":{"field":"g","type":"nominal","legend":null}}},
{"data":{"name":"box"},"transform":[{"filter":"datum.p=='e'"},{"fold":["lo","hi","md"],"as":["kk","val"]}],"mark":{"type":"tick","orient":"horizontal","size":35,"thickness":1.3,"opacity":0.85},"encoding":{"x":{"field":"g","type":"nominal"},"color":{"field":"g","type":"nominal","legend":null}}},
{"data":{"name":"pts"},"transform":[{"filter":"datum.p=='e'"},{"flatten":["v"],"as":["val"]},{"window":[{"op":"row_number","as":"k"}],"groupby":["g"]},{"window":[{"op":"cume_dist","as":"j"}],"sort":[{"field":"k"}],"groupby":["g"]}],"mark":{"type":"circle","size":15,"opacity":1},"encoding":{"x":{"field":"g","type":"nominal"},"xOffset":{"field":"j","type":"quantitative","scale":{"domain":[0,1],"range":[-18,18]}},"color":{"field":"g","type":"nominal","legend":null}}}
]},
{"layer":[
{"data":{"name":"brk"},"transform":[{"filter":"datum.p=='e'"},{"fold":["y"],"as":["kk","val"]}],"mark":{"type":"rule","color":"#6a6a6a","strokeWidth":1},"encoding":{"x":{"field":"x1","type":"quantitative","scale":{"domain":[0.39,4.61],"nice":false,"zero":false},"axis":null},"x2":{"field":"x2"}}},
{"data":{"name":"brk"},"transform":[{"filter":"datum.p=='e'"},{"fold":["x1","x2"],"as":["kk","xv"]},{"fold":["y"],"as":["k2","val"]}],"mark":{"type":"point","shape":"M0,0L0,1","size":81,"color":"#6a6a6a","strokeWidth":1,"opacity":1},"encoding":{"x":{"field":"xv","type":"quantitative","axis":null}}},
{"data":{"name":"brk"},"transform":[{"filter":"datum.p=='e'"},{"fold":["x1","x2"],"as":["kk","xv"]},{"aggregate":[{"op":"mean","field":"xv","as":"xm"}],"groupby":["y","lab"]},{"fold":["y"],"as":["k2","val"]}],"mark":{"type":"text","baseline":"bottom","dy":0,"fontSize":11,"color":"#444"},"encoding":{"x":{"field":"xm","type":"quantitative","axis":null},"text":{"field":"lab"}}}
]}
]},
{"width":282,"height":195,"title":"Kruskal-Wallis test p = 0.25","resolve":{"scale":{"x":"independent"},"axis":{"x":"independent"}},
"encoding":{"y":{"field":"val","type":"quantitative","scale":{"domain":[1.6,15.19],"nice":false,"zero":false},"axis":{"values":[5,10,15],"title":"FDX1 expression","titlePadding":2,"labelPadding":2}}},
"layer":[
{"layer":[
{"data":{"name":"box"},"transform":[{"filter":"datum.p=='f'"},{"fold":["lo"],"as":["kk","val"]}],"mark":{"type":"rule","strokeWidth":1.2,"opacity":0.8},"encoding":{"x":{"field":"g","type":"nominal","scale":{"type":"point","domain":[1,2,3,4],"padding":0.61},"axis":{"title":"(f)","labelAngle":0,"labelExpr":"datum.value == 1 ? ['I', '(n = 181)'] : datum.value == 2 ? ['II', '(n = 624)'] : datum.value == 3 ? ['III', '(n = 249)'] : ['IV', '(n = 20)']","labelOverlap":false,"labelLineHeight":14,"labelPadding":2,"titlePadding":6}},"y2":{"field":"hi"},"color":{"field":"g","type":"nominal","scale":{"domain":[1,2,3,4],"range":["#8B1A0E","#0E3C8A","#CC4F0C","#0B5A24"]},"legend":null}}},
{"data":{"name":"box"},"transform":[{"filter":"datum.p=='f'"},{"fold":["q1"],"as":["kk","val"]}],"mark":{"type":"bar","orient":"vertical","size":35,"filled":false,"strokeWidth":1.2,"opacity":0.8},"encoding":{"x":{"field":"g","type":"nominal"},"y2":{"field":"q3"},"color":{"field":"g","type":"nominal","legend":null}}},
{"data":{"name":"box"},"transform":[{"filter":"datum.p=='f'"},{"fold":["lo","hi","md"],"as":["kk","val"]}],"mark":{"type":"tick","orient":"horizontal","size":35,"thickness":1.3,"opacity":0.85},"encoding":{"x":{"field":"g","type":"nominal"},"color":{"field":"g","type":"nominal","legend":null}}},
{"data":{"name":"pts"},"transform":[{"filter":"datum.p=='f'"},{"flatten":["v"],"as":["val"]},{"window":[{"op":"row_number","as":"k"}],"groupby":["g"]},{"window":[{"op":"cume_dist","as":"j"}],"sort":[{"field":"k"}],"groupby":["g"]}],"mark":{"type":"circle","size":15,"opacity":1},"encoding":{"x":{"field":"g","type":"nominal"},"xOffset":{"field":"j","type":"quantitative","scale":{"domain":[0,1],"range":[-18,18]}},"color":{"field":"g","type":"nominal","legend":null}}}
]},
{"layer":[
{"data":{"name":"brk"},"transform":[{"filter":"datum.p=='f'"},{"fold":["y"],"as":["kk","val"]}],"mark":{"type":"rule","color":"#6a6a6a","strokeWidth":1},"encoding":{"x":{"field":"x1","type":"quantitative","scale":{"domain":[0.39,4.61],"nice":false,"zero":false},"axis":null},"x2":{"field":"x2"}}},
{"data":{"name":"brk"},"transform":[{"filter":"datum.p=='f'"},{"fold":["x1","x2"],"as":["kk","xv"]},{"fold":["y"],"as":["k2","val"]}],"mark":{"type":"point","shape":"M0,0L0,1","size":81,"color":"#6a6a6a","strokeWidth":1,"opacity":1},"encoding":{"x":{"field":"xv","type":"quantitative","axis":null}}},
{"data":{"name":"brk"},"transform":[{"filter":"datum.p=='f'"},{"fold":["x1","x2"],"as":["kk","xv"]},{"aggregate":[{"op":"mean","field":"xv","as":"xm"}],"groupby":["y","lab"]},{"fold":["y"],"as":["k2","val"]}],"mark":{"type":"text","baseline":"bottom","dy":0,"fontSize":11,"color":"#444"},"encoding":{"x":{"field":"xm","type":"quantitative","axis":null},"text":{"field":"lab"}}}
]}
]}
]}
]}
]
}
